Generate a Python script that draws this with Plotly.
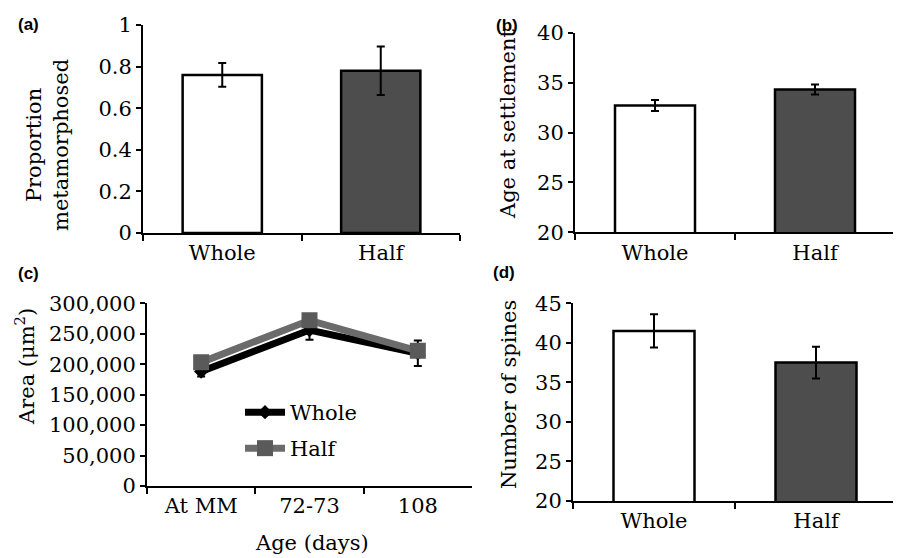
import plotly.graph_objects as go

# ---- data ----
groups = ["Whole", "Half"]
prop_meta = [0.76, 0.78]
prop_meta_err = [0.057, 0.117]
age_settle = [32.7, 34.3]
age_settle_err = [0.55, 0.5]
spines = [41.5, 37.5]
spines_err = [2.1, 2.0]

ages = ["At MM", "72-73", "108"]
area_whole = [188000, 256000, 218000]
area_whole_err = [8000, 16000, 21000]
area_half = [203000, 272000, 222000]
area_half_err = [6000, 8000, 8000]

bar_colors = ["white", "#4d4d4d"]
FONT = "DejaVu Serif"
W, H = 901, 558
OFF = 8  # page body margin offset

def px(x0, x1):
    return [(x0 - OFF) / W, (x1 - OFF) / W]

def py(top, bottom):
    return [1 - (bottom - OFF) / H, 1 - (top - OFF) / H]

def fx(x):
    return (x - OFF) / W

def fy(y):
    return 1 - (y - OFF) / H

fig = go.Figure()

def bar_panel(vals, errs, xa, ya):
    fig.add_trace(go.Bar(
        x=groups, y=vals, width=0.5, xaxis=xa, yaxis=ya,
        marker=dict(color=bar_colors, line=dict(color="black", width=2.5)),
        error_y=dict(type="data", array=errs, color="black", thickness=2, width=4),
        showlegend=False,
    ))

bar_panel(prop_meta, prop_meta_err, "x", "y")
bar_panel(age_settle, age_settle_err, "x2", "y2")
bar_panel(spines, spines_err, "x4", "y4")

fig.add_trace(go.Scatter(
    x=ages, y=area_whole, xaxis="x3", yaxis="y3", name="Whole", legend="legend",
    mode="lines+markers", line=dict(color="black", width=7),
    marker=dict(symbol="diamond", size=11, color="black"),
    error_y=dict(type="data", array=area_whole_err, color="black", thickness=2, width=4),
))
fig.add_trace(go.Scatter(
    x=ages, y=area_half, xaxis="x3", yaxis="y3", name="Half", legend="legend2",
    mode="lines+markers", line=dict(color="#6b6b6b", width=7),
    marker=dict(symbol="square", size=16, color="#5a5a5a"),
    error_y=dict(type="data", array=area_half_err, color="#5a5a5a", thickness=2, width=4),
))

def xax(domain, anchor, n):
    return dict(domain=domain, anchor=anchor, type="category", range=[-0.5, n - 0.5],
                showline=True, linecolor="black", linewidth=2, ticks="outside",
                tickson="boundaries", ticklen=6, tickwidth=2, tickcolor="black",
                showgrid=False, zeroline=False, fixedrange=True, automargin=False,
                tickfont=dict(size=21))

def yax(domain, anchor, rng, dtick, fmt=None):
    d = dict(domain=domain, anchor=anchor, range=rng, dtick=dtick, tick0=rng[0],
             showline=True, linecolor="black", linewidth=2, ticks="outside",
             ticklen=5, tickwidth=2, tickcolor="black", showgrid=False,
             zeroline=False, automargin=False, tickfont=dict(size=21))
    if fmt:
        d["tickformat"] = fmt
    return d

leg_common = dict(xanchor="left", yanchor="top", bgcolor="rgba(0,0,0,0)",
                  font=dict(size=21), itemwidth=40)

fig.update_layout(
    template="none",
    width=W, height=H, margin=dict(l=0, r=0, t=0, b=0, pad=0, autoexpand=False),
    paper_bgcolor="white", plot_bgcolor="white",
    font=dict(family=FONT, size=21, color="black"),
    xaxis=xax(px(143, 460), "y", 2),
    yaxis=yax(py(25, 233), "x", [0, 1], 0.2),
    xaxis2=xax(px(575, 895), "y2", 2),
    yaxis2=yax(py(32.7, 232.3), "x2", [20, 40], 5),
    xaxis3=xax(px(147, 472), "y3", 3),
    yaxis3=yax(py(303.3, 486), "x3", [0, 300000], 50000, ","),
    xaxis4=xax(px(573, 897), "y4", 2),
    yaxis4=yax(py(303.3, 501), "x4", [20, 45], 5),
    legend=dict(x=fx(240), y=fy(392), **leg_common),
    legend2=dict(x=fx(240), y=fy(428), **leg_common),
)

def ann(text, x, y, angle=0, size=21, family=FONT, bold=False):
    if bold:
        text = "<b>" + text + "</b>"
    fig.add_annotation(text=text, x=fx(x), y=fy(y), xref="paper", yref="paper",
                       showarrow=False, textangle=angle, xanchor="center",
                       yanchor="middle", font=dict(size=size, family=family, color="black"))

ann("Proportion<br>metamorphosed", 47, 145, angle=-90)
ann("Age at settlement", 508, 124, angle=-90)
ann("Area (μm<sup>2</sup>)", 25, 367, angle=-90)
ann("Number of spines", 509, 395, angle=-90)
ann("Age (days)", 312, 543)

ann("(a)", 28, 24, size=17, family="Liberation Sans", bold=True)
ann("(b)", 507, 25, size=17, family="Liberation Sans", bold=True)
ann("(c)", 28, 274, size=17, family="Liberation Sans", bold=True)
ann("(d)", 504, 272, size=17, family="Liberation Sans", bold=True)

fig.write_html("out.html")
